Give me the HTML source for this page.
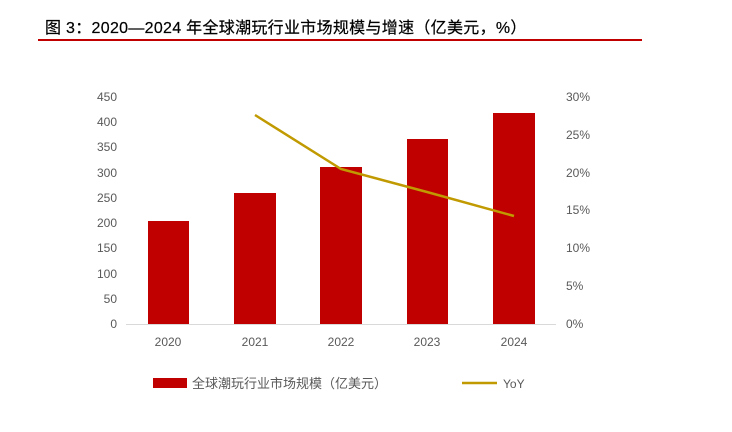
<!DOCTYPE html>
<html><head><meta charset="utf-8"><style>
body{margin:0;background:#fff;}
svg text{font-family:"Liberation Sans","Noto Sans CJK SC",sans-serif;}
</style></head><body>
<svg width="732" height="427" xmlns="http://www.w3.org/2000/svg">
<text x="45" y="33" font-size="16" letter-spacing="0.3" fill="#000" stroke="#000" stroke-width="0.2">图 3：2020—2024 年全球潮玩行业市场规模与增速（亿美元，%）</text>
<rect x="38" y="39" width="604" height="2" fill="#c00000"/>
<g font-size="12" fill="#595959" text-anchor="end">
<text x="117" y="101">450</text><text x="117" y="126">400</text><text x="117" y="151">350</text>
<text x="117" y="177">300</text><text x="117" y="202">250</text><text x="117" y="227">200</text>
<text x="117" y="252">150</text><text x="117" y="278">100</text><text x="117" y="303">50</text>
<text x="117" y="328">0</text>
</g>
<g font-size="12" fill="#595959" text-anchor="start">
<text x="566" y="101">30%</text><text x="566" y="139">25%</text><text x="566" y="177">20%</text>
<text x="566" y="214">15%</text><text x="566" y="252">10%</text><text x="566" y="290">5%</text>
<text x="566" y="328">0%</text>
</g>
<g fill="#c00000">
<rect x="148" y="221" width="41" height="103"/>
<rect x="234" y="193" width="42" height="131"/>
<rect x="320" y="167" width="42" height="157"/>
<rect x="407" y="139" width="41" height="185"/>
<rect x="493" y="113" width="42" height="211"/>
</g>
<line x1="126" y1="324.5" x2="556" y2="324.5" stroke="#d9d9d9" stroke-width="1"/>
<polyline points="255,115 341,169 427,192 514,216" fill="none" stroke="#c09a00" stroke-width="2.5"/>
<g font-size="12" fill="#595959" text-anchor="middle">
<text x="168" y="346">2020</text><text x="255" y="346">2021</text><text x="341" y="346">2022</text>
<text x="427" y="346">2023</text><text x="514" y="346">2024</text>
</g>
<rect x="153" y="378" width="34" height="10" fill="#c00000"/>
<text x="192" y="388" font-size="13" fill="#595959">全球潮玩行业市场规模（亿美元）</text>
<line x1="462" y1="383" x2="497" y2="383" stroke="#c09a00" stroke-width="2.5"/>
<text x="503" y="388" font-size="12" fill="#595959">YoY</text>
</svg>
</body></html>
